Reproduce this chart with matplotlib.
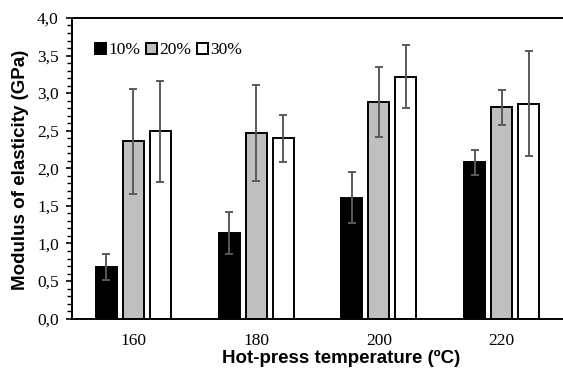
import numpy as np
import matplotlib
matplotlib.use("Agg")
import matplotlib.pyplot as plt
from matplotlib.ticker import MultipleLocator, FuncFormatter

temps = ["160", "180", "200", "220"]
series = ["10%", "20%", "30%"]
vals_10 = [0.69, 1.14, 1.61, 2.08]
vals_20 = [2.36, 2.47, 2.88, 2.81]
vals_30 = [2.49, 2.40, 3.22, 2.86]
err_10 = [0.17, 0.28, 0.34, 0.17]
err_20 = [0.70, 0.64, 0.47, 0.23]
err_30 = [0.67, 0.31, 0.42, 0.70]

colors = ["black", "#bfbfbf", "white"]

fig = plt.figure(figsize=(5.63, 3.74), dpi=100)
ax = fig.add_axes([0.128, 0.148, 0.872, 0.804])

x = np.arange(len(temps))
w = 0.17
step = 0.22
for i, (v, e) in enumerate(zip([vals_10, vals_20, vals_30], [err_10, err_20, err_30])):
    ax.bar(x + (i - 1) * step, v, width=w, color=colors[i], edgecolor="black",
           linewidth=1.4, label=series[i], zorder=2)
    ax.errorbar(x + (i - 1) * step, v, yerr=e, fmt="none", ecolor="#5a5a5a",
                elinewidth=1.4, capsize=2.6, capthick=1.4, zorder=3)

ax.set_xlim(-0.5, 3.5)
ax.set_ylim(0, 4.0)
ax.set_xticks(x)
ax.set_xticklabels(temps, fontfamily="Liberation Serif", fontsize=12.5)
ax.tick_params(axis="x", length=0, pad=10)
ax.yaxis.set_major_locator(MultipleLocator(0.5))
ax.yaxis.set_minor_locator(MultipleLocator(0.1))
ax.yaxis.set_major_formatter(FuncFormatter(lambda v, p: f"{v:.1f}".replace(".", ",")))
for lab in ax.get_yticklabels():
    lab.set_fontfamily("Liberation Serif")
    lab.set_fontsize(12.5)
ax.tick_params(axis="y", which="major", length=4.5, width=1.2, direction="out", pad=5)
ax.tick_params(axis="y", which="minor", length=3.5, width=1.0, direction="out")

for s in ["left", "bottom", "top"]:
    ax.spines[s].set_linewidth(1.4)
ax.spines["right"].set_visible(False)

ax.set_xlabel("Hot-press temperature (ºC)", fontfamily="Liberation Sans",
              fontweight="bold", fontsize=13.5, va="center")
ax.xaxis.set_label_coords(0.549, -0.134)
ax.set_ylabel("Modulus of elasticity (GPa)", fontfamily="Liberation Sans",
              fontweight="bold", fontsize=13.5, va="center")
ax.yaxis.set_label_coords(-0.106, 0.495)

leg = ax.legend(loc="upper left", ncol=3, frameon=False,
                prop={"family": "Liberation Serif", "size": 12.5},
                handlelength=0.6, handleheight=0.6, handletextpad=0.15,
                columnspacing=0.35, borderaxespad=0.4, bbox_to_anchor=(0.019, 0.965))

fig.savefig("out.png", dpi=100)
